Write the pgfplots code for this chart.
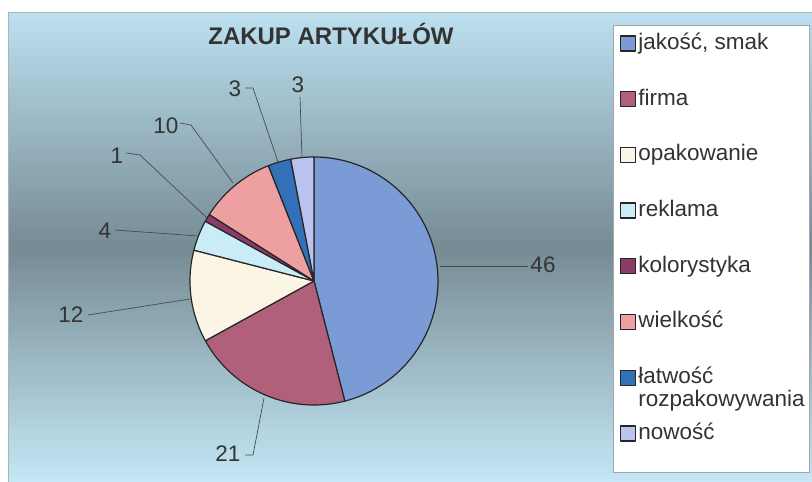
\documentclass[border=0pt]{standalone}
\usepackage{fontspec}
\setmainfont{Liberation Sans}
\usepackage{pgfplots}
\pgfplotsset{compat=1.18}
\definecolor{cJak}{HTML}{7B9BD6}
\definecolor{cFir}{HTML}{B0607A}
\definecolor{cOpa}{HTML}{FBF5E6}
\definecolor{cRek}{HTML}{C9ECF7}
\definecolor{cKol}{HTML}{8A3C68}
\definecolor{cWie}{HTML}{EE9FA0}
\definecolor{cLat}{HTML}{3470B8}
\definecolor{cNow}{HTML}{B9C5EE}
\definecolor{bgtop}{HTML}{BCE0F0}
\definecolor{bgmid}{HTML}{768B94}
\definecolor{bgbot}{HTML}{C4E8F6}
\definecolor{txt}{HTML}{333333}
\definecolor{lead}{HTML}{4A4A4A}
% colour, cumulative start (%), value (%), legend text
\newcommand{\slice}[4]{%
  \addplot[draw=black!85, line width=1.2pt, line join=round, fill=#1,
    domain=90-3.6*(#2+#3):90-3.6*(#2), samples=80]
    ({314+124*cos(x)},{201+124*sin(x)}) -- (axis cs:314,201) -- cycle;
  \addlegendentry{#4}}
\begin{document}
\begin{tikzpicture}
\useasboundingbox (0,0) rectangle (812pt,482pt);
\begin{axis}[
  at={(0,0)}, anchor=south west,
  scale only axis, width=812pt, height=482pt,
  xmin=0, xmax=812, ymin=0, ymax=482,
  hide axis, clip=false,
  legend image code/.code={\draw[#1, line width=1.3pt, draw=black!85] (0pt,-1.5pt) rectangle (15pt,13.5pt);},
  legend style={at={(0.7630,0.9305)}, anchor=north west, draw=none, fill=none,
    inner sep=0pt, outer sep=0pt, column sep=2.5pt, row sep=36.7pt,
    font=\fontsize{22.5}{22}\selectfont, text=txt,
    cells={anchor=base west},
    nodes={inner sep=0pt, text height=16pt, text depth=3pt}},
]
% background
\shade[top color=bgtop, bottom color=bgbot, middle color=bgmid]
  (axis cs:8,0) rectangle (axis cs:812,469);
\draw[gray!60, line width=1pt] (axis cs:8,0) -- (axis cs:8,469) -- (axis cs:812,469);
% legend box
\draw[fill=white, draw=gray!70, line width=0.8pt] (axis cs:613,10) rectangle (axis cs:809,457);
% title
\node[anchor=base, font=\fontsize{24}{28}\selectfont\bfseries, text=txt] at (axis cs:331,437) {ZAKUP ARTYKUŁÓW};
% slices
\slice{cJak}{0}{46}{jakość, smak}
\slice{cFir}{46}{21}{firma}
\slice{cOpa}{67}{12}{opakowanie}
\slice{cRek}{79}{4}{reklama}
\slice{cKol}{83}{1}{kolorystyka}
\slice{cWie}{84}{10}{wielkość}
\slice{cLat}{94}{3}{\begin{tabular}[t]{@{}l@{}}łatwość\\rozpakowywania\end{tabular}}
\slice{cNow}{97}{3}{nowość}
% leader lines
\draw[lead, line width=0.7pt] (axis cs:440,216) -- (axis cs:528,216);
\draw[lead, line width=0.7pt] (axis cs:264,84) -- (axis cs:253,27) -- (axis cs:245,27);
\draw[lead, line width=0.7pt] (axis cs:190,183) -- (axis cs:88,167);
\draw[lead, line width=0.7pt] (axis cs:198,246) -- (axis cs:115,252);
\draw[lead, line width=0.7pt] (axis cs:207,264) -- (axis cs:140,327) -- (axis cs:126,329);
\draw[lead, line width=0.7pt] (axis cs:233,299) -- (axis cs:191,357) -- (axis cs:180,359);
\draw[lead, line width=0.7pt] (axis cs:278,320) -- (axis cs:253,394) -- (axis cs:245,394);
\draw[lead, line width=0.7pt] (axis cs:302,324) -- (axis cs:300,385);
% labels
\begin{scope}[every node/.style={anchor=base, font=\fontsize{22.5}{27}\selectfont, text=txt}]
\node at (axis cs:543,209) {46};
\node at (axis cs:228,20) {21};
\node at (axis cs:71,159) {12};
\node at (axis cs:105,243) {4};
\node at (axis cs:117,318) {1};
\node at (axis cs:166,348) {10};
\node at (axis cs:235,385) {3};
\node at (axis cs:298,389) {3};
\end{scope}
\end{axis}
\end{tikzpicture}
\end{document}
